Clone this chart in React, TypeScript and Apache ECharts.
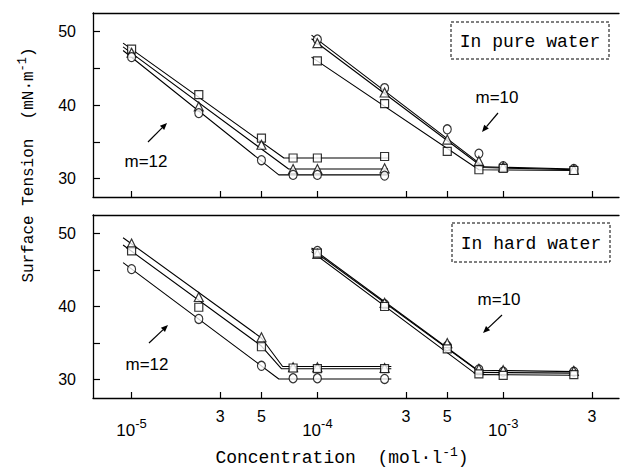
import React, { useEffect, useRef } from "react";
import * as echarts from "echarts";

// ---- data (concentration in mol/l, surface tension in mN/m) ----
const concM12 = [1e-5, 2.3e-5, 5e-5, 7.4e-5, 1e-4, 2.3e-4];
const concM10 = [1e-4, 2.3e-4, 5e-4, 7.4e-4, 1e-3, 2.4e-3];

// In pure water
const pureM12Square = [47.6, 41.4, 35.5, 32.8, 32.8, 33.0];
const pureM12Triangle = [47.1, 39.8, 34.6, 31.3, 31.3, 31.4];
const pureM12Circle = [46.5, 38.9, 32.5, 30.5, 30.5, 30.4];
const pureM10Circle = [48.9, 42.3, 36.7, 33.4, 31.7, 31.3];
const pureM10Triangle = [48.4, 41.7, 35.3, 32.4, 31.6, 31.2];
const pureM10Square = [46.0, 40.2, 33.7, 31.2, 31.4, 31.1];

// In hard water
const hardM12Triangle = [48.6, 41.3, 35.8, 31.7, 31.7, 31.6];
const hardM12Square = [47.6, 39.9, 34.5, 31.6, 31.5, 31.5];
const hardM12Circle = [45.1, 38.3, 31.9, 30.2, 30.2, 30.1];
const hardM10Circle = [47.6, 40.3, 34.6, 31.4, 31.1, 31.1];
const hardM10Triangle = [47.2, 40.5, 35.0, 31.5, 31.3, 31.2];
const hardM10Square = [47.3, 40.0, 34.2, 30.8, 30.6, 30.7];

// fitted lines (vertices)
const pureM12SquareFit = [[9e-6, 48.4], [6.6e-5, 32.8], [2.4e-4, 32.8]];
const pureM12TriangleFit = [[9e-6, 47.9], [7.0e-5, 31.3], [2.4e-4, 31.3]];
const pureM12CircleFit = [[9e-6, 47.4], [6.2e-5, 30.5], [2.4e-4, 30.5]];
const pureM10CircleFit = [[9.3e-5, 49.5], [7.9e-4, 31.6], [2.45e-3, 31.3]];
const pureM10TriangleFit = [[9.3e-5, 49.0], [7.8e-4, 31.5], [2.45e-3, 31.2]];
const pureM10SquareFit = [[9.3e-5, 46.5], [7.4e-4, 31.2], [2.45e-3, 31.1]];

const hardM12TriangleFit = [[9e-6, 49.4], [5e-5, 35.7], [6.5e-5, 31.8], [2.5e-4, 31.8]];
const hardM12SquareFit = [[9e-6, 48.4], [5e-5, 34.6], [6.4e-5, 31.5], [2.5e-4, 31.5]];
const hardM12CircleFit = [[9e-6, 46.0], [6.2e-5, 30.1], [2.5e-4, 30.1]];
const hardM10CircleFit = [[9.3e-5, 48.0], [7.3e-4, 31.3], [2.45e-3, 31.1]];
const hardM10TriangleFit = [[9.3e-5, 47.8], [7.5e-4, 31.0], [2.45e-3, 30.9]];
const hardM10SquareFit = [[9.3e-5, 47.5], [7.2e-4, 30.7], [2.45e-3, 30.6]];

// axes
const xTicks = [1e-5, 3e-5, 5e-5, 1e-4, 3e-4, 5e-4, 1e-3, 3e-3];
const xDecadeLabels = [1e-5, 1e-4, 1e-3];
const xMinorLabels = [3e-5, 5e-5, 3e-4, 5e-4, 3e-3];
const yTicks = [30, 35, 40, 45, 50];
const yLabels = [30, 40, 50];

const X_MIN = 6.2e-6;
const X_MAX = 4.2e-3;
const Y_MIN = 27.5;
const Y_MAX = 52.5;

const SANS = "Liberation Sans";
const MONO = "Liberation Mono";

function markers(xAxisIndex: number, yAxisIndex: number, conc: number[], vals: number[], symbol: string) {
  const size = symbol === "circle" ? [8, 9] : symbol === "triangle" ? [9, 9] : [8, 8];
  return {
    type: "scatter",
    xAxisIndex,
    yAxisIndex,
    data: conc.map((c, i) => [c, vals[i]]),
    symbol,
    symbolSize: size,
    itemStyle: { color: "#fff", borderColor: "#000", borderWidth: 1.2 },
    z: 4,
    silent: true,
  };
}

function fitLine(xAxisIndex: number, yAxisIndex: number, fit: number[][]) {
  return {
    type: "line",
    xAxisIndex,
    yAxisIndex,
    data: fit,
    showSymbol: false,
    symbol: "none",
    lineStyle: { color: "#000", width: 1.1 },
    z: 3,
    silent: true,
  };
}

function arrow(x1: number, y1: number, x2: number, y2: number) {
  const ang = Math.atan2(y2 - y1, x2 - x1);
  const L = 7;
  const W = 3;
  const bx = x2 - L * Math.cos(ang);
  const by = y2 - L * Math.sin(ang);
  const px = -Math.sin(ang) * W;
  const py = Math.cos(ang) * W;
  return [
    { type: "line", shape: { x1, y1, x2: bx, y2: by }, style: { stroke: "#000", lineWidth: 1.2 } },
    {
      type: "polygon",
      shape: { points: [[x2, y2], [bx + px, by + py], [bx - px, by - py]] },
      style: { fill: "#000" },
    },
  ];
}

function xAxisMain(gridIndex: number, showLabels: boolean) {
  return {
    type: "log",
    logBase: 10,
    gridIndex,
    min: X_MIN,
    max: X_MAX,
    position: "bottom",
    axisLine: { show: true, lineStyle: { color: "#000", width: 1.3 } },
    axisTick: { show: true, inside: true, length: 6, customValues: xTicks, lineStyle: { color: "#000", width: 1.2 } },
    minorTick: { show: false },
    splitLine: { show: false },
    axisLabel: showLabels
      ? {
          customValues: xDecadeLabels,
          margin: 19,
          color: "#000",
          formatter: (v: number) => `{b|10}{s|${Math.round(Math.log10(v))}}`,
          rich: {
            b: { fontFamily: SANS, fontSize: 17, color: "#000" },
            s: { fontFamily: SANS, fontSize: 13, color: "#000", padding: [0, 0, 14, 0] },
          },
        }
      : { show: false },
  };
}

function xAxisTop(gridIndex: number) {
  return {
    type: "log",
    logBase: 10,
    gridIndex,
    min: X_MIN,
    max: X_MAX,
    position: "top",
    axisLine: { show: true, lineStyle: { color: "#000", width: 1.3 } },
    axisTick: { show: false },
    minorTick: { show: false },
    splitLine: { show: false },
    axisLabel: { show: false },
  };
}

function yAxis(gridIndex: number) {
  return {
    type: "value",
    gridIndex,
    min: Y_MIN,
    max: Y_MAX,
    axisLine: { show: true, lineStyle: { color: "#000", width: 1.3 } },
    axisTick: { show: true, inside: true, length: 7, customValues: yTicks, lineStyle: { color: "#000", width: 1.2 } },
    splitLine: { show: false },
    axisLabel: {
      customValues: yLabels,
      margin: 17,
      color: "#000",
      fontFamily: SANS,
      fontSize: 16,
    },
  };
}

export default function App() {
  const ref = useRef<HTMLDivElement>(null);

  useEffect(() => {
    document.body.style.margin = "0";
    if (!ref.current) return;
    const chart = echarts.init(ref.current, undefined, { renderer: "svg" });

    const series: any[] = [
      // pure water (grid 0, xAxis 0)
      fitLine(0, 0, pureM12SquareFit),
      fitLine(0, 0, pureM12TriangleFit),
      fitLine(0, 0, pureM12CircleFit),
      fitLine(0, 0, pureM10CircleFit),
      fitLine(0, 0, pureM10TriangleFit),
      fitLine(0, 0, pureM10SquareFit),
      markers(0, 0, concM12, pureM12Square, "rect"),
      markers(0, 0, concM12, pureM12Triangle, "triangle"),
      markers(0, 0, concM12, pureM12Circle, "circle"),
      markers(0, 0, concM10, pureM10Circle, "circle"),
      markers(0, 0, concM10, pureM10Triangle, "triangle"),
      markers(0, 0, concM10, pureM10Square, "rect"),
      // hard water (grid 1, xAxis 2)
      fitLine(2, 1, hardM12TriangleFit),
      fitLine(2, 1, hardM12SquareFit),
      fitLine(2, 1, hardM12CircleFit),
      fitLine(2, 1, hardM10CircleFit),
      fitLine(2, 1, hardM10TriangleFit),
      fitLine(2, 1, hardM10SquareFit),
      markers(2, 1, concM12, hardM12Triangle, "triangle"),
      markers(2, 1, concM12, hardM12Square, "rect"),
      markers(2, 1, concM12, hardM12Circle, "circle"),
      markers(2, 1, concM10, hardM10Circle, "circle"),
      markers(2, 1, concM10, hardM10Triangle, "triangle"),
      markers(2, 1, concM10, hardM10Square, "rect"),
    ];

    const annoText = (x: number, y: number, text: string) => ({
      type: "text",
      x,
      y,
      style: { text, fontFamily: SANS, fontSize: 17, fill: "#000", align: "center", verticalAlign: "middle" },
    });

    const box = (x: number, y: number, w: number, h: number, text: string) => [
      {
        type: "rect",
        shape: { x, y, width: w, height: h },
        style: { fill: "#fff", stroke: "#000", lineWidth: 1, lineDash: [3, 2] },
      },
      {
        type: "text",
        x: x + w / 2,
        y: y + h / 2 + 1,
        style: { text, fontFamily: MONO, fontSize: 18, fill: "#000", align: "center", verticalAlign: "middle" },
      },
    ];

    const graphic: any[] = [
      ...box(451, 22, 158, 37, "In pure water"),
      ...box(452, 223, 158, 39, "In hard water"),
      annoText(146, 161, "m=12"),
      annoText(147, 364, "m=12"),
      annoText(497, 97, "m=10"),
      annoText(499, 299, "m=10"),
      ...arrow(148, 142, 167, 123),
      ...arrow(149, 343, 168, 325),
      ...arrow(498, 113, 482, 132),
      ...arrow(502, 315, 483, 333),
      {
        type: "text",
        x: 29,
        y: 165,
        rotation: Math.PI / 2,
        style: {
          text: "{a|Surface Tension  (mN·m}{s|-1}{a|)}",
          fill: "#000",
          align: "center",
          verticalAlign: "middle",
          rich: {
            a: { fontFamily: MONO, fontSize: 16, fill: "#000" },
            s: { fontFamily: MONO, fontSize: 12, fill: "#000", padding: [0, 0, 12, 0] },
          },
        },
      },
      {
        type: "text",
        x: 342,
        y: 458,
        style: {
          text: "{a|Concentration  (mol·l}{s|-1}{a|)}",
          fill: "#000",
          align: "center",
          verticalAlign: "middle",
          rich: {
            a: { fontFamily: MONO, fontSize: 18, fill: "#000" },
            s: { fontFamily: MONO, fontSize: 13, fill: "#000", padding: [0, 0, 12, 0] },
          },
        },
      },
    ];

    chart.setOption({
      animation: false,
      backgroundColor: "#fff",
      grid: [
        { left: 93, top: 13, width: 526, height: 184 },
        { left: 93, top: 215, width: 526, height: 183 },
      ],
      xAxis: [
        xAxisMain(0, false),
        xAxisTop(0),
        xAxisMain(1, true),
        xAxisTop(1),
        {
          type: "log",
          logBase: 10,
          gridIndex: 1,
          min: X_MIN,
          max: X_MAX,
          position: "bottom",
          axisLine: { show: false },
          axisTick: { show: false },
          minorTick: { show: false },
          splitLine: { show: false },
          axisLabel: {
            customValues: xMinorLabels,
            margin: 10,
            color: "#000",
            fontFamily: SANS,
            fontSize: 16,
            formatter: (v: number) =>
              String(Math.round(v / Math.pow(10, Math.floor(Math.log10(v) + 1e-9)))),
          },
        },
      ],
      yAxis: [yAxis(0), yAxis(1)],
      series,
      graphic,
    });

    return () => chart.dispose();
  }, []);

  return (
    <div
      ref={ref}
      style={{ position: "absolute", left: 0, top: 0, width: 621, height: 474 }}
    />
  );
}
